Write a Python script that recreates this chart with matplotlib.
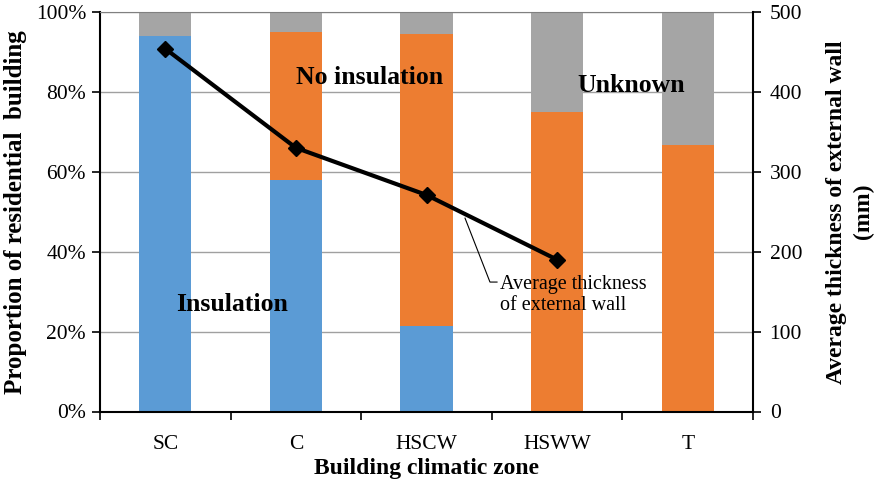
import matplotlib
matplotlib.use("Agg")
import matplotlib.pyplot as plt
import numpy as np

categories = ["SC", "C", "HSCW", "HSWW", "T"]
insulation = [94.0, 58.0, 21.5, 0.0, 0.0]
no_insulation = [0.0, 37.0, 73.0, 75.0, 66.7]
unknown = [6.0, 5.0, 5.5, 25.0, 33.3]
thickness_cats = ["SC", "C", "HSCW", "HSWW"]
thickness = [454, 330, 271, 190]

plt.rcParams['font.family'] = ['Liberation Serif', 'DejaVu Serif']

fig = plt.figure(figsize=(8.75, 4.83), dpi=100)
ax = fig.add_axes([100/875, 1-411.5/483, 653/875, 399.5/483])

x = np.arange(len(categories))
w = 0.4
blue, orange, gray = "#5B9BD5", "#ED7D31", "#A5A5A5"
ax.bar(x, insulation, w, color=blue, zorder=2)
ax.bar(x, no_insulation, w, bottom=insulation, color=orange, zorder=2)
bot2 = np.array(insulation) + np.array(no_insulation)
ax.bar(x, unknown, w, bottom=bot2, color=gray, zorder=2)

ax.set_xlim(-0.5, len(categories) - 0.5)
ax.set_ylim(0, 100)
ax.set_yticks(np.arange(0, 101, 20))
ax.set_yticklabels([f"{v}%" for v in range(0, 101, 20)], fontsize=15.5)
ax.grid(axis='y', color='#a0a0a0', linewidth=1, zorder=0)
ax.set_axisbelow(True)
ax.set_xticks(x)
ax.set_xticklabels(categories, fontsize=15.5)
ax.set_xticks(np.arange(-0.5, len(categories) + 0.5, 1), minor=True)
ax.tick_params(axis='x', which='major', length=0, pad=17)
ax.tick_params(axis='x', which='minor', length=6, width=1.2, direction='out')
ax.tick_params(axis='y', length=6, width=1.2, direction='out', pad=4)
for s in ['left', 'bottom']:
    ax.spines[s].set_linewidth(1.5)
ax.spines['top'].set_color('#808080')
ax.spines['right'].set_visible(False)

ax.set_xlabel("Building climatic zone", fontsize=17, fontweight='bold', labelpad=3)
ax.set_ylabel("Proportion of residential  building", fontsize=18, fontweight='bold', labelpad=6)

ax2 = ax.twinx()
tx = [categories.index(c) for c in thickness_cats]
ax2.plot(tx, thickness, color='black', linewidth=3, marker='D', markersize=8, zorder=5)
ax2.set_ylim(0, 500)
ax2.set_yticks(np.arange(0, 501, 100))
ax2.set_yticklabels([str(v) for v in range(0, 501, 100)], fontsize=15.5)
ax2.tick_params(axis='y', length=6, width=1.2, direction='out', pad=6)
for s in ['left', 'bottom', 'top']:
    ax2.spines[s].set_visible(False)
ax2.spines['right'].set_linewidth(1.5)
ax2.set_ylabel("Average thickness of external wall\n(mm)", fontsize=17, fontweight='bold',
               labelpad=17, linespacing=1.38)

ax.text(0.51, 26.7, "Insulation", fontsize=18.5, fontweight='bold', ha='center', va='center', zorder=6)
ax.text(1.567, 83.5, "No insulation", fontsize=18.5, fontweight='bold', ha='center', va='center', zorder=6)
ax.text(3.57, 81.7, "Unknown", fontsize=18.5, fontweight='bold', ha='center', va='center', zorder=6)

# leader line for the line-series label
ax2.plot([2.295, 2.486, 2.54], [242, 162, 162], color='black', linewidth=0.8, zorder=6)
ax2.text(2.56, 171, "Average thickness\nof external wall", fontsize=14.5, ha='left', va='top',
         linespacing=1.15, zorder=6)

fig.savefig("out.png", dpi=100)
